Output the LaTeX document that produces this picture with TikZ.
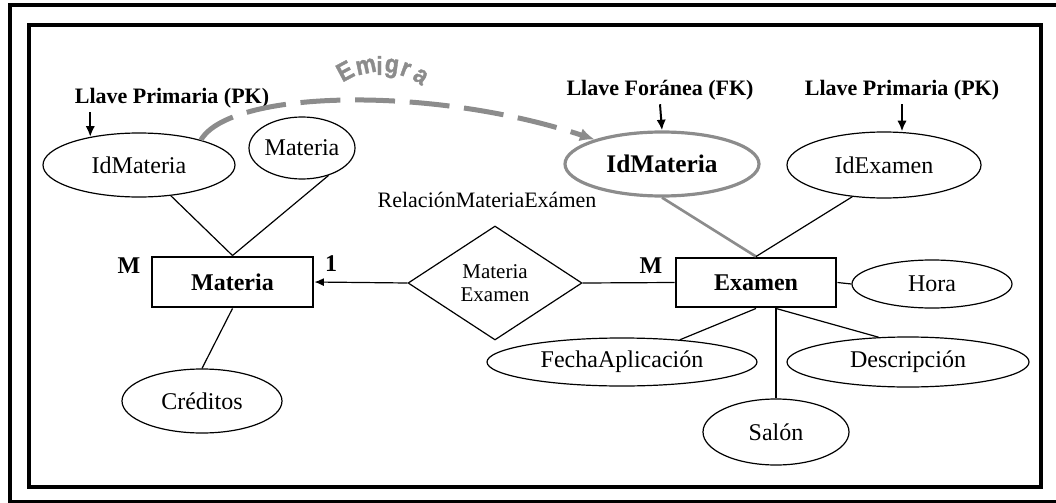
\documentclass[tikz,border=0pt]{standalone}
\usepackage{fontspec}
\setmainfont{Liberation Serif}
\newfontfamily\emfont[FakeStretch=0.88,FakeBold=1.2]{Liberation Sans}
\usetikzlibrary{shapes.geometric,arrows.meta}
\definecolor{fkgray}{HTML}{8C8C8C}

\begin{document}
\begin{tikzpicture}[x=0.75pt,y=-0.75pt,
  every node/.style={inner sep=0pt},
  frame/.style={draw=black, line width=3pt},
  attr/.style 2 args={ellipse, draw, line width=0.9pt, minimum width=#1, minimum height=#2,
    font=\fontsize{18}{20}\selectfont},
  entity/.style 2 args={rectangle, draw, line width=2.2pt, minimum width=#1, minimum height=#2,
    font=\fontsize{18}{20}\selectfont\bfseries},
  relation/.style={diamond, draw, line width=0.9pt, minimum width=130.5pt, minimum height=85.5pt,
    align=center, font=\fontsize{15.75}{17}\selectfont},
  keylabel/.style={font=\fontsize{16.5}{18}\selectfont\bfseries},
  card/.style={font=\fontsize{18}{20}\selectfont\bfseries},
  plain/.style={font=\fontsize{16.5}{18}\selectfont},
  emletter/.style={text=fkgray, font=\emfont\bfseries\fontsize{19.5}{19.5}\selectfont},
  link/.style={line width=0.9pt},
  keyarrow/.style={line width=1.5pt, -{Latex[length=8pt,width=7pt]}},
  fklink/.style={draw=fkgray, line width=2pt},
  migrate/.style={draw=fkgray, line width=3.75pt, dash pattern=on 30pt off 11pt,
    -{Latex[length=11pt,width=10pt]}}
]
\useasboundingbox (0,0) rectangle (1056,503);

% frames
\draw[frame] (10,5) rectangle (1060,502);
\draw[frame] (29,25) rectangle (1041,487);

% entity Materia and its attributes
\node[entity={120.75pt}{37.5pt}] (mat) at (232.5,282) {Materia};
\node[attr={144pt}{48pt}] (idm) at (139,165) {IdMateria};
\node[attr={79.5pt}{46.5pt}] (mate) at (302,148) {Materia};
\node[attr={120pt}{48pt}] (cred) at (202,401) {Créditos};
\node[keylabel] (pkl) at (172,98) {Llave Primaria (PK)};

% relationship
\node[relation] (rel) at (495,283) {Materia\\Examen};
\node[plain] (rellbl) at (487,200) {RelaciónMateriaExámen};

% entity Examen and its attributes
\node[entity={120pt}{36.75pt}] (exa) at (756,282.5) {Examen};
\node[attr={145.5pt}{48pt}, draw=fkgray, line width=2.4pt, font=\fontsize{19}{21}\selectfont\bfseries] (idfk) at (662,164) {IdMateria};
\node[attr={145.5pt}{49.5pt}] (idex) at (884,165) {IdExamen};
\node[attr={120pt}{36pt}] (hora) at (932,284) {Hora};
\node[attr={202.5pt}{36pt}] (fecha) at (622,362) {FechaAplicación};
\node[attr={181.5pt}{37.5pt}] (desc) at (908,362) {Descripción};
\node[attr={109.5pt}{49.5pt}] (salon) at (776,432) {Salón};
\node[keylabel] (fkl) at (660,90) {Llave Foránea (FK)};
\node[keylabel] (pkr) at (902,90) {Llave Primaria (PK)};

% cardinalities
\node[card] (cm1) at (129,266) {M};
\node[card] (c1) at (331,264) {1};
\node[card] (cm2) at (651,266) {M};

% connectors
\draw[link] (idm.-44) -- (mat.north);
\draw[link] (mate.-46) -- (mat.north);
\draw[link] (mat.south) -- (cred.north);
\draw[link, -{Latex[length=7pt,width=6pt]}] (rel.west) -- (mat.east);
\draw[link] (rel.east) -- (exa.west);
\draw[fklink] (idfk.south) -- (exa.north);
\draw[link] (idex.-135) -- (exa.north);
\draw[link] (exa.east) -- (hora.west);
\draw[link] (exa.south) -- (fecha.21);
\draw[link] (exa.south -| salon.north) -- (salon.north);
\draw[link] (exa.south -| salon.north) -- (desc.140);

% key arrows
\draw[keyarrow] ([yshift=-3pt]pkl.south -| idm.150) -- (idm.150);
\draw[keyarrow] ([yshift=-3pt]fkl.south) -- (idfk.north);
\draw[keyarrow] ([yshift=-3pt]pkr.south) -- (pkr.south |- idex.north);

% migration of the key, with its arched label
\draw[migrate] (idm.22) .. controls (230,90) and (430,85) .. (idfk.160);
\foreach \ch/\x/\y/\r [count=\k] in {E/345/71/28, m/366/66.5/12, i/379.5/65.5/0,
                                     g/391.5/68.5/-8, r/405.5/69.5/-20, a/420.5/76.5/-35}
  \node[emletter, rotate=\r] (emigra\k) at (\x,\y) {\ch};
\end{tikzpicture}
\end{document}
